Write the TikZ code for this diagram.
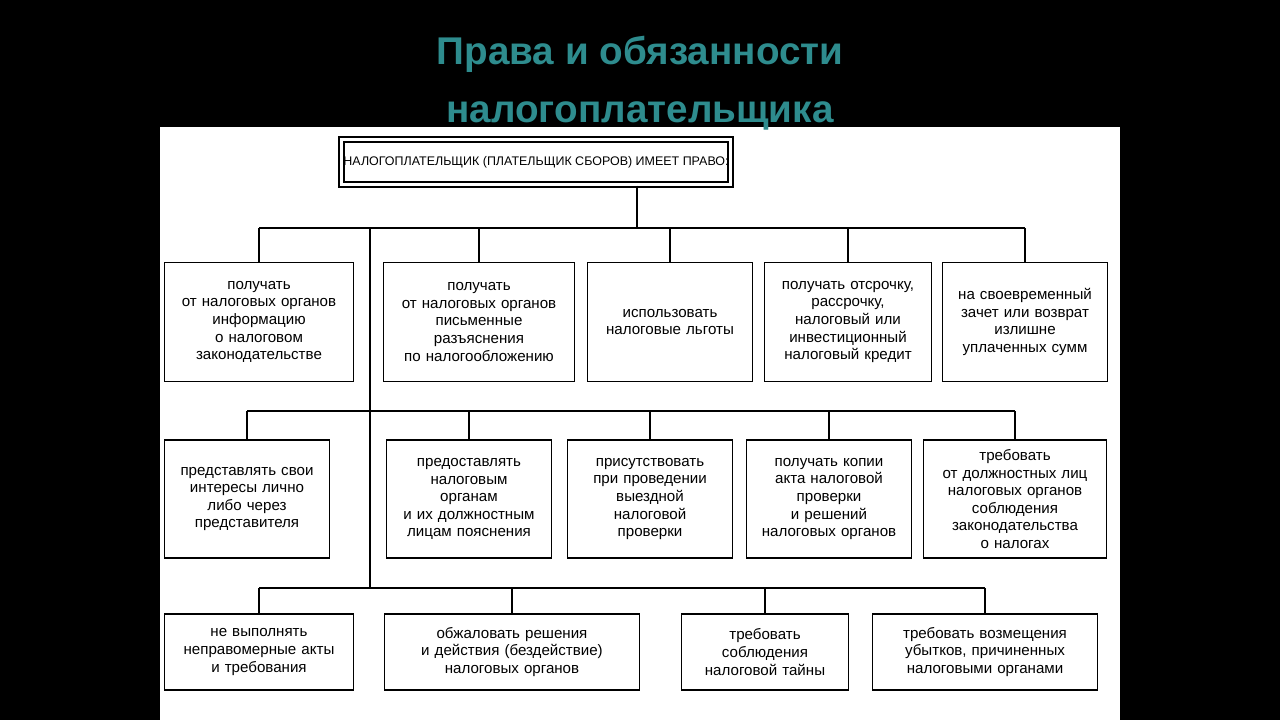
\documentclass[tikz,border=0pt]{standalone}
\usepackage{fontspec}
\setmainfont{Liberation Sans}
\usetikzlibrary{positioning}
\definecolor{titleteal}{HTML}{2E8C8E}
\begin{document}
\begin{tikzpicture}[x=0.02cm,y=-0.02cm]
	\tikzstyle{rect}=[draw, rectangle, thick, text centered, font=\fontsize{8.6}{10}\selectfont, inner sep=1pt]
	\tikzstyle{ln}=[draw, thick]

	\fill[black] (0,0) rectangle (1280,720);
	\fill[white] (160,127) rectangle (1120,720);
	\node[titleteal, font=\fontsize{22}{33}\selectfont\bfseries, align=center] (title) at (640,83) {Права и обязанности\\налогоплательщика};

	% top box
	\node[rect, double, double distance=1.5pt, very thick, font=\fontsize{7.1}{9}\selectfont, minimum width=7.7cm, minimum height=0.9cm] (head) at (536,162) {НАЛОГОПЛАТЕЛЬЩИК (ПЛАТЕЛЬЩИК СБОРОВ) ИМЕЕТ ПРАВО:};

	% first row
	\node[rect, text width=3.7cm, minimum height=2.38cm] (r1a) at (259,322) {получать\\от налоговых органов\\информацию\\о налоговом\\законодательстве};
	\node[rect, text width=3.76cm, minimum height=2.38cm] (r1b) at (479,322) {получать\\от налоговых органов\\письменные\\разъяснения\\по налогообложению};
	\node[rect, text width=3.24cm, minimum height=2.38cm] (r1c) at (670,322) {использовать\\налоговые льготы};
	\node[rect, text width=3.26cm, minimum height=2.38cm] (r1d) at (848,322) {получать отсрочку,\\рассрочку,\\налоговый или\\инвестиционный\\налоговый кредит};
	\node[rect, text width=3.22cm, minimum height=2.38cm] (r1e) at (1025,322) {на своевременный\\зачет или возврат\\излишне\\уплаченных сумм};

	% second row
	\node[rect, text width=3.22cm, minimum height=2.36cm] (r2a) at (247,499) {представлять свои\\интересы лично\\либо через\\представителя};
	\node[rect, text width=3.24cm, minimum height=2.36cm] (r2b) at (469,499) {предоставлять\\налоговым\\органам\\и их должностным\\лицам пояснения};
	\node[rect, text width=3.24cm, minimum height=2.36cm] (r2c) at (650,499) {присутствовать\\при проведении\\выездной\\налоговой\\проверки};
	\node[rect, text width=3.24cm, minimum height=2.36cm] (r2d) at (829,499) {получать копии\\акта налоговой\\проверки\\и решений\\налоговых органов};
	\node[rect, text width=3.58cm, minimum height=2.36cm] (r2e) at (1015,499) {требовать\\от должностных лиц\\налоговых органов\\соблюдения\\законодательства\\о налогах};

	% third row
	\node[rect, text width=3.72cm, minimum height=1.52cm] (r3a) at (259,652) {не выполнять\\неправомерные акты\\и требования};
	\node[rect, text width=5.04cm, minimum height=1.52cm] (r3b) at (512,652) {обжаловать решения\\и действия (бездействие)\\налоговых органов};
	\node[rect, text width=3.26cm, minimum height=1.52cm] (r3c) at (765,652) {требовать\\соблюдения\\налоговой тайны};
	\node[rect, text width=4.44cm, minimum height=1.52cm] (r3d) at (985,652) {требовать возмещения\\убытков, причиненных\\налоговыми органами};

	% connectors
	\coordinate (bus1) at (637,228);
	\coordinate (spine) at (370,228);
	\coordinate (spineend) at (370,588);
	\draw[ln] (head.south -| bus1) -- (bus1);
	\draw[ln] (r1a.north |- bus1) -- (r1e.north |- bus1);
	\draw[ln] (spine) -- (spineend);
	\foreach \n in {r1a,r1b,r1c,r1d,r1e}
		\draw[ln] (\n.north |- bus1) -- (\n.north);
	\coordinate (bus2) at (370,411);
	\draw[ln] (r2a.north |- bus2) -- (r2e.north |- bus2);
	\foreach \n in {r2a,r2b,r2c,r2d,r2e}
		\draw[ln] (\n.north |- bus2) -- (\n.north);
	\draw[ln] (r3a.north |- spineend) -- (r3d.north |- spineend);
	\foreach \n in {r3a,r3b,r3c,r3d}
		\draw[ln] (\n.north |- spineend) -- (\n.north);
\end{tikzpicture}
\end{document}
